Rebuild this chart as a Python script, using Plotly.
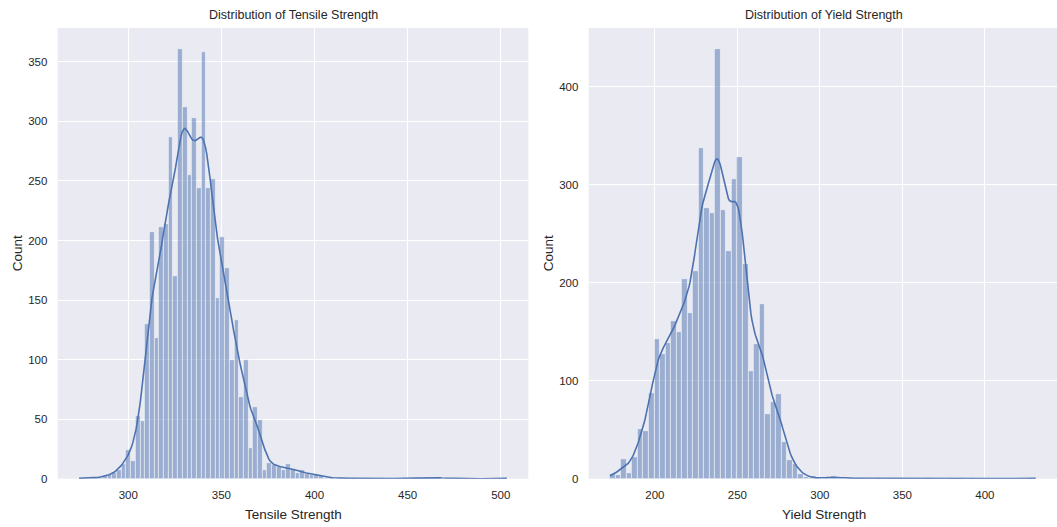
import numpy as np
import plotly.graph_objects as go

# ---------------- data ----------------
tensile_bin_start = 273.6
tensile_bin_width = 2.524
tensile_counts = [
    1, 0, 0, 1, 1, 2, 3,
    4.7, 7, 12, 23.7, 15, 52.8, 48.6, 130, 206.9, 118.5, 211.6, 214, 287, 170.5,
    360.4, 312.3, 255.2, 302.5, 243.8, 358.2, 243.8, 251.4,
    151.5, 202.7, 177.2, 99.8, 133, 69, 99.8, 25.7, 60.6, 49.4, 7.5, 13.6, 11.7,
    10, 7.5, 12.2, 8, 4.7, 7, 4, 3.4,
    4, 3, 1, 1, 0, 1, 0, 0, 1, 0, 0, 1, 0, 0, 1, 0, 0, 0, 0, 0, 0, 1, 0, 1, 1, 1,
    1, 0, 1, 0, 0, 0, 0, 0, 0, 0, 0, 0, 0, 0, 1,
]

yield_bin_start = 172.8
yield_bin_width = 3.351
yield_counts = [
    5.3, 3.6, 19.6, 6, 21.7, 50.6, 48.6, 87.8, 142.6, 127, 138.2, 161, 150, 204,
    169, 211.5, 337.6, 276.3, 271, 438, 274.5, 232, 306, 328.7, 219, 110, 137,
    178, 65.6, 78.5, 86, 37.6, 19, 14.8, 4.5,
    2, 1, 1, 0, 1, 3, 1, 0, 1, 0, 1, 0, 0, 1, 0, 1, 1, 1, 0, 1, 0, 0, 1, 0, 0,
    0, 1, 1, 1, 0, 1, 0, 0, 0, 0, 0, 0, 0, 0, 0, 0, 1,
]

tensile_ticks = [300, 350, 400, 450, 500]
tensile_yticks = [0, 50, 100, 150, 200, 250, 300, 350]
yield_ticks = [200, 250, 300, 350, 400]
yield_yticks = [0, 100, 200, 300, 400]

titles = ["Distribution of Tensile Strength", "Distribution of Yield Strength"]
xlabels = ["Tensile Strength", "Yield Strength"]
ylabel = "Count"

# ---------------- styling ----------------
W, H = 1057, 527
BLUE = "#4C72B0"
BAR_FILL = "rgba(76,114,176,0.5)"
BG = "#EAEAF2"
TXT = "#262626"
FONT = "Liberation Sans, Arial, sans-serif"

# panel pixel boxes (left, right, top, bottom)
panels = [(57.7, 528.3, 28.0, 478.7), (588.7, 1057.0, 28.0, 478.7)]


def hist_geometry(start, width, counts):
    c = np.asarray(counts, dtype=float)
    n = len(c)
    centers = start + width * (np.arange(n) + 0.5)
    edges_min, edges_max = start, start + width * n
    return c, centers, edges_min, edges_max


def kde_from_counts(centers, c, width, lo, hi):
    N = c.sum()
    mean = (c * centers).sum() / N
    var = (c * (centers - mean) ** 2).sum() / (N - 1)
    bw = np.sqrt(var) * N ** (-1 / 5)
    xs = np.linspace(lo, hi, 400)
    z = (xs[:, None] - centers[None, :]) / bw
    dens = (c[None, :] * np.exp(-0.5 * z ** 2)).sum(axis=1) / (N * bw * np.sqrt(2 * np.pi))
    return xs, dens * N * width


fig = go.Figure()

datasets = [
    (tensile_bin_start, tensile_bin_width, tensile_counts, tensile_ticks, tensile_yticks),
    (yield_bin_start, yield_bin_width, yield_counts, yield_ticks, yield_yticks),
]

for k, (start, width, counts, xt, yt) in enumerate(datasets):
    c, centers, lo, hi = hist_geometry(start, width, counts)
    xa = "x" if k == 0 else "x2"
    ya = "y" if k == 0 else "y2"
    fig.add_trace(go.Bar(
        x=centers, y=c, width=width, xaxis=xa, yaxis=ya,
        marker=dict(color=BAR_FILL, line=dict(color="rgba(255,255,255,0.85)", width=0.6)),
        showlegend=False, hoverinfo="x+y",
    ))
    kx, ky = kde_from_counts(centers, c, width, lo, hi)
    fig.add_trace(go.Scatter(
        x=kx, y=ky, mode="lines", xaxis=xa, yaxis=ya,
        line=dict(color=BLUE, width=1.6), showlegend=False, hoverinfo="skip",
    ))

    L, R, T, B = panels[k]
    span = hi - lo
    xr = [lo - 0.05 * span, hi + 0.05 * span]
    yr = [0, c.max() * 1.05]
    axis_common = dict(
        showgrid=True, gridcolor="white", gridwidth=1, zeroline=False,
        showline=False, ticks="outside", tickcolor="rgba(0,0,0,0)",
        tickfont=dict(family=FONT, size=11.5, color=TXT), automargin=False,
    )
    xkey = "xaxis" if k == 0 else "xaxis2"
    ykey = "yaxis" if k == 0 else "yaxis2"
    fig.update_layout(**{
        xkey: dict(axis_common, domain=[L / W, R / W], range=xr,
                   tickmode="array", tickvals=xt, ticklen=5,
                   anchor="y" if k == 0 else "y2"),
        ykey: dict(axis_common, domain=[1 - B / H, 1 - T / H], range=yr,
                   tickmode="array", tickvals=yt, ticklen=7,
                   anchor="x" if k == 0 else "x2"),
    })

    cx = (L + (R if k == 0 else 1058.3)) / 2
    fig.add_annotation(text=titles[k], x=cx / W, y=1 - 15 / H, xref="paper", yref="paper",
                       showarrow=False, xanchor="center", yanchor="middle",
                       font=dict(family=FONT, size=12.5, color=TXT))
    fig.add_annotation(text=xlabels[k], x=cx / W, y=1 - 514 / H, xref="paper", yref="paper",
                       showarrow=False, xanchor="center", yanchor="middle",
                       font=dict(family=FONT, size=13.5, color=TXT))
    ylx = 17 if k == 0 else 548
    fig.add_annotation(text=ylabel, x=ylx / W, y=1 - ((T + B) / 2) / H, xref="paper", yref="paper",
                       showarrow=False, xanchor="center", yanchor="middle", textangle=-90,
                       font=dict(family=FONT, size=13.5, color=TXT))

fig.update_layout(
    width=W, height=H, margin=dict(l=0, r=0, t=0, b=0),
    paper_bgcolor="white", plot_bgcolor=BG, bargap=0,
    font=dict(family=FONT, color=TXT),
)

fig.write_html(
    "out.html",
    config={"displayModeBar": False},
    post_script="document.body.style.margin='0';document.body.style.overflow='hidden';",
)
